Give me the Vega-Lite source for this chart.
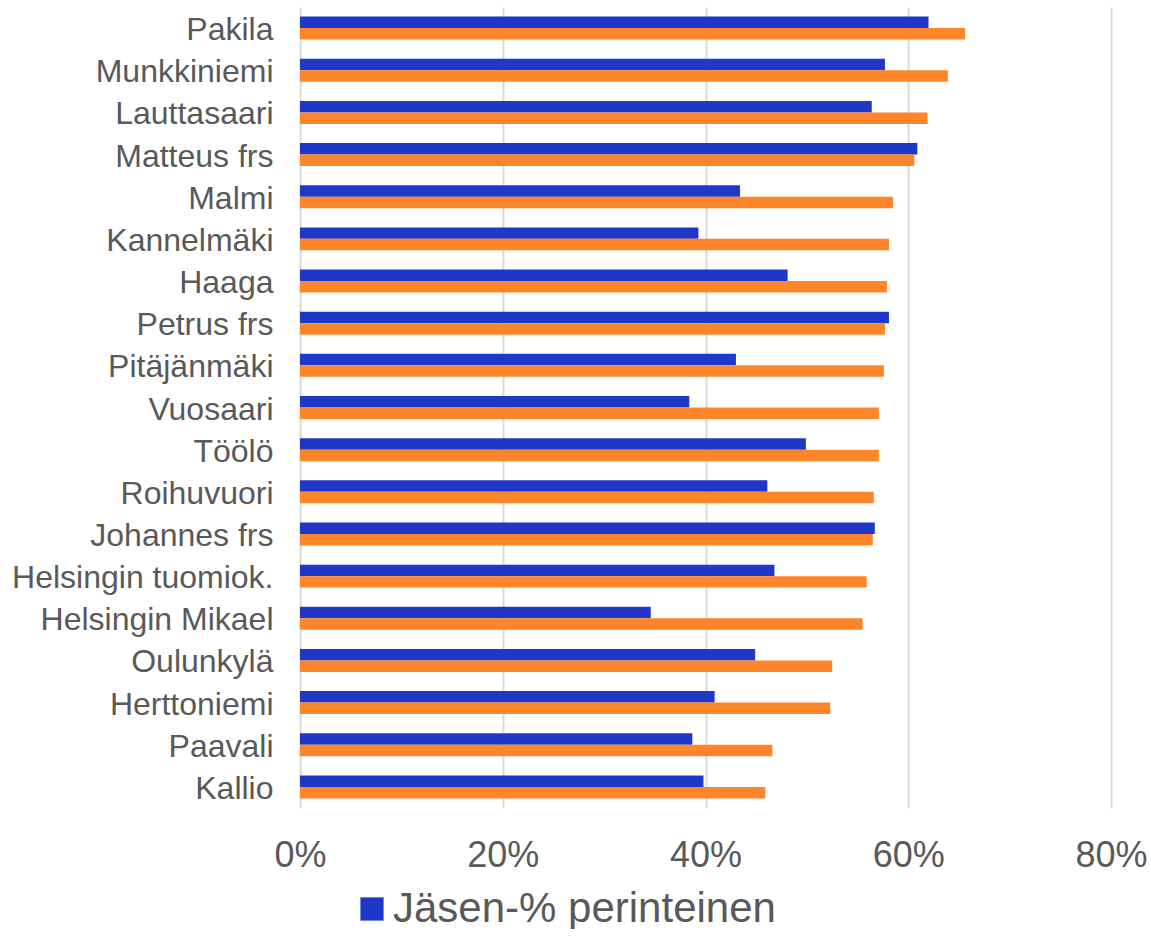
{
  "$schema": "https://vega.github.io/schema/vega-lite/v6.json",
  "autosize": {"type": "none"},
  "padding": {"left": 300, "top": 7, "right": 40, "bottom": 121},
  "width": 811,
  "height": 801,
  "background": "white",
  "config": {
    "view": {"stroke": null},
    "font": "Liberation Sans",
    "axis": {"labelFont": "Liberation Sans", "labelColor": "#595959"},
    "legend": {"labelFont": "Liberation Sans", "labelColor": "#595959"}
  },
  "data": {
    "values": [
      {"seurakunta": "Pakila", "sarja": "Jäsen-% perinteinen", "arvo": 0.620},
      {"seurakunta": "Pakila", "sarja": "Jäsen-% kaikki", "arvo": 0.656},
      {"seurakunta": "Munkkiniemi", "sarja": "Jäsen-% perinteinen", "arvo": 0.577},
      {"seurakunta": "Munkkiniemi", "sarja": "Jäsen-% kaikki", "arvo": 0.639},
      {"seurakunta": "Lauttasaari", "sarja": "Jäsen-% perinteinen", "arvo": 0.564},
      {"seurakunta": "Lauttasaari", "sarja": "Jäsen-% kaikki", "arvo": 0.619},
      {"seurakunta": "Matteus frs", "sarja": "Jäsen-% perinteinen", "arvo": 0.609},
      {"seurakunta": "Matteus frs", "sarja": "Jäsen-% kaikki", "arvo": 0.606},
      {"seurakunta": "Malmi", "sarja": "Jäsen-% perinteinen", "arvo": 0.434},
      {"seurakunta": "Malmi", "sarja": "Jäsen-% kaikki", "arvo": 0.585},
      {"seurakunta": "Kannelmäki", "sarja": "Jäsen-% perinteinen", "arvo": 0.393},
      {"seurakunta": "Kannelmäki", "sarja": "Jäsen-% kaikki", "arvo": 0.581},
      {"seurakunta": "Haaga", "sarja": "Jäsen-% perinteinen", "arvo": 0.481},
      {"seurakunta": "Haaga", "sarja": "Jäsen-% kaikki", "arvo": 0.579},
      {"seurakunta": "Petrus frs", "sarja": "Jäsen-% perinteinen", "arvo": 0.581},
      {"seurakunta": "Petrus frs", "sarja": "Jäsen-% kaikki", "arvo": 0.577},
      {"seurakunta": "Pitäjänmäki", "sarja": "Jäsen-% perinteinen", "arvo": 0.430},
      {"seurakunta": "Pitäjänmäki", "sarja": "Jäsen-% kaikki", "arvo": 0.576},
      {"seurakunta": "Vuosaari", "sarja": "Jäsen-% perinteinen", "arvo": 0.384},
      {"seurakunta": "Vuosaari", "sarja": "Jäsen-% kaikki", "arvo": 0.571},
      {"seurakunta": "Töölö", "sarja": "Jäsen-% perinteinen", "arvo": 0.499},
      {"seurakunta": "Töölö", "sarja": "Jäsen-% kaikki", "arvo": 0.571},
      {"seurakunta": "Roihuvuori", "sarja": "Jäsen-% perinteinen", "arvo": 0.461},
      {"seurakunta": "Roihuvuori", "sarja": "Jäsen-% kaikki", "arvo": 0.566},
      {"seurakunta": "Johannes frs", "sarja": "Jäsen-% perinteinen", "arvo": 0.567},
      {"seurakunta": "Johannes frs", "sarja": "Jäsen-% kaikki", "arvo": 0.565},
      {"seurakunta": "Helsingin tuomiok.", "sarja": "Jäsen-% perinteinen", "arvo": 0.468},
      {"seurakunta": "Helsingin tuomiok.", "sarja": "Jäsen-% kaikki", "arvo": 0.559},
      {"seurakunta": "Helsingin Mikael", "sarja": "Jäsen-% perinteinen", "arvo": 0.346},
      {"seurakunta": "Helsingin Mikael", "sarja": "Jäsen-% kaikki", "arvo": 0.555},
      {"seurakunta": "Oulunkylä", "sarja": "Jäsen-% perinteinen", "arvo": 0.449},
      {"seurakunta": "Oulunkylä", "sarja": "Jäsen-% kaikki", "arvo": 0.525},
      {"seurakunta": "Herttoniemi", "sarja": "Jäsen-% perinteinen", "arvo": 0.409},
      {"seurakunta": "Herttoniemi", "sarja": "Jäsen-% kaikki", "arvo": 0.523},
      {"seurakunta": "Paavali", "sarja": "Jäsen-% perinteinen", "arvo": 0.387},
      {"seurakunta": "Paavali", "sarja": "Jäsen-% kaikki", "arvo": 0.466},
      {"seurakunta": "Kallio", "sarja": "Jäsen-% perinteinen", "arvo": 0.398},
      {"seurakunta": "Kallio", "sarja": "Jäsen-% kaikki", "arvo": 0.459}
    ]
  },
  "mark": {"type": "bar"},
  "encoding": {
    "y": {
      "field": "seurakunta",
      "type": "nominal",
      "sort": null,
      "title": null,
      "scale": {"paddingInner": 0.455, "paddingOuter": 0.2275},
      "axis": {
        "domain": false,
        "ticks": false,
        "labelFontSize": 32,
        "labelPadding": 27,
        "labelOffset": 2,
        "labelLimit": 400
      }
    },
    "yOffset": {
      "field": "sarja",
      "type": "nominal",
      "sort": ["Jäsen-% perinteinen", "Jäsen-% kaikki"],
      "scale": {"paddingInner": 0, "paddingOuter": 0}
    },
    "x": {
      "field": "arvo",
      "type": "quantitative",
      "title": null,
      "scale": {"domain": [0, 0.8], "nice": false},
      "axis": {
        "values": [0, 0.2, 0.4, 0.6, 0.8],
        "format": ".0%",
        "domain": false,
        "ticks": false,
        "labelFlush": false,
        "labelOverlap": false,
        "labelFontSize": 36,
        "labelPadding": 30,
        "grid": true,
        "gridColor": "#d9d9d9",
        "gridWidth": 2
      }
    },
    "color": {
      "field": "sarja",
      "type": "nominal",
      "scale": {
        "domain": ["Jäsen-% perinteinen", "Jäsen-% kaikki"],
        "range": ["#1F38C8", "#FF852B"]
      },
      "legend": {
        "title": null,
        "values": ["Jäsen-% perinteinen"],
        "orient": "none",
        "legendX": 51,
        "legendY": 881,
        "direction": "horizontal",
        "symbolType": "square",
        "symbolSize": 540,
        "symbolStrokeWidth": 0,
        "labelFontSize": 42,
        "labelLimit": 900,
        "labelOffset": 0
      }
    }
  }
}
